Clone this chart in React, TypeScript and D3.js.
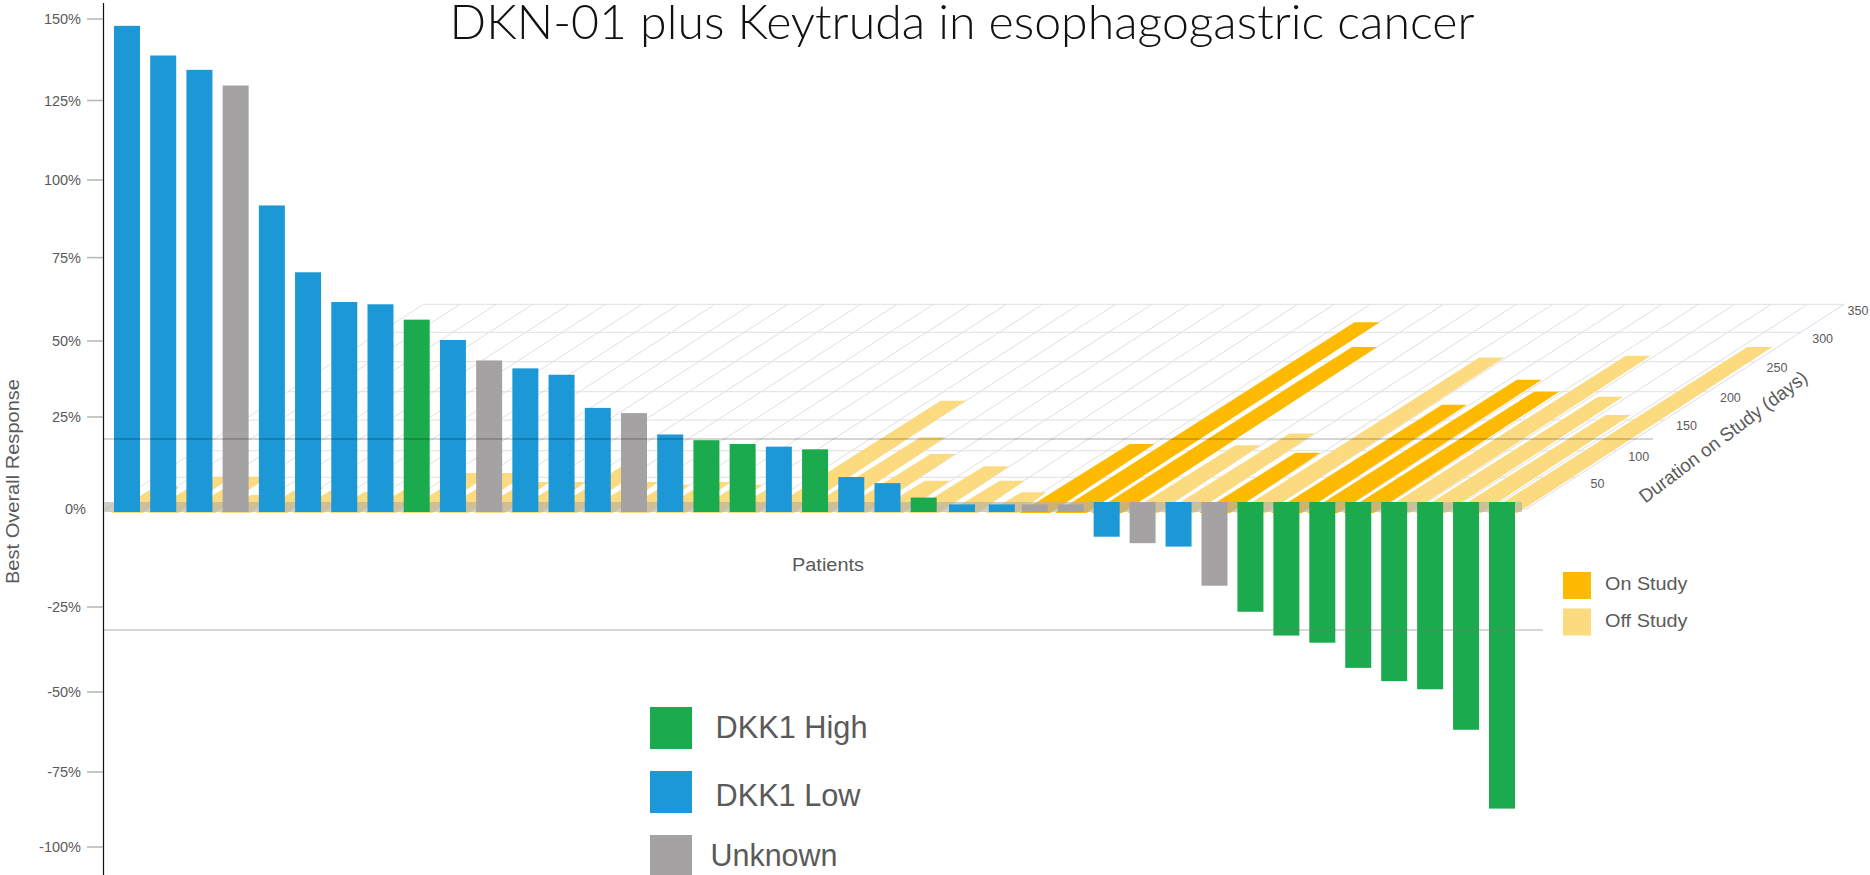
import React from "react";
import * as d3 from "d3";

const patientIndex = d3.range(39);
const responseValues = [147.9, 138.8, 134.4, 129.6, 91.8, 70.6, 61.7, 61, 56.4, 50.3, 43.6, 41, 38.9, 28, 26.3, 20.4, 18.9, 17.9, 17.2, 16.5, 9.2, 7.6, 3.8, 2, 2, 2, 2, -6.5, -8.2, -9.1, -19.4, -26.4, -33.4, -35.5, -42.9, -46.8, -49.2, -61.8, -87.2];
const markerGroups = ["L","L","L","U","L","L","L","L","H","L","U","L","L","L","U","L","H","H","L","H","L","L","H","L","L","U","U","L","U","L","U","H","H","H","H","H","H","H","H"];
const durationDays = [33, 51, 51, 19, 32, 28, 25, 28, 58, 58, 42, 42, 71, 42, 37, 42, 37, 28, 184, 122, 94, 44, 71, 44, 24, 111, 318, 275, 109, 128, 96, 257, 177, 220, 200, 260, 191, 159, 275];
const studyStatus = ["off","off","off","off","off","off","off","off","off","off","off","off","off","off","off","off","off","off","off","off","off","off","off","off","off","on","on","on","off","off","on","off","on","on","on","off","off","off","off"];
const responseTicks = [150, 125, 100, 75, 50, 25, 0, -25, -50, -75, -100];
const durationTicks = [50, 100, 150, 200, 250, 300, 350];
const gridColumns = d3.range(40);
const markerLegend = [
  { key: "H", label: "DKK1 High" },
  { key: "L", label: "DKK1 Low" },
  { key: "U", label: "Unknown" },
];
const statusLegend = [
  { key: "on", label: "On Study" },
  { key: "off", label: "Off Study" },
];

const markerColor: Record<string, string> = { H: "#1BAB4E", L: "#1B98D5", U: "#A5A2A3" };
const statusColor: Record<string, string> = { on: "#FEBA00", off: "#FCDB80" };

const y = d3.scaleLinear().domain(responseTicks).range([19, 100.5, 180, 257.6, 341, 417, 512, 607, 692, 772, 847]);
const x = d3.scaleLinear().domain([0, 22, 23, 24, 25, 38]).range([127, 923.7, 962, 1001.8, 1034.8, 1502]);
const gridX = d3.scaleLinear().domain([0, 39]).range([99.4, 1520]);
const depth = d3.scaleLinear().domain([0, 50, 100, 150, 200, 250, 300, 350]).range([506, 477.3, 450.7, 420, 391.7, 361.7, 332.3, 304.3]);

const SKEW = 1.553;
const BASE = 513;
const skew = (py: number) => (BASE - py) * SKEW;
const BAR_W = 26;
const RIBBON_W = 31;
const TIP_W = 25;
const line = d3.line();

const TXT = "#5a5a5a";
const SANS = "'Liberation Sans', Arial, sans-serif";

export default function App() {
  const topY = depth(350);
  return (
    <svg width={1870} height={875} style={{ position: "absolute", left: 0, top: 0, background: "#fff" }} fontFamily={SANS}>
      {/* floor grid */}
      <g stroke="#e0e0e0" strokeWidth={1} fill="none">
        {gridColumns.map((k) => (
          <path key={k} d={line([[gridX(k) + skew(510), 510], [gridX(k) + skew(topY), topY]]) as string} stroke={k === 39 ? "#d8dcec" : "#e0e0e0"} />
        ))}
        {durationTicks.map((d) => {
          const py = depth(d);
          return <path key={d} d={line([[gridX(0) + skew(py), py], [gridX(39) + skew(py), py]]) as string} />;
        })}
      </g>

      {/* duration ribbons */}
      {patientIndex.map((i) => {
        const c = x(i);
        const py = depth(durationDays[i]);
        const tip = c + skew(py);
        return (
          <path
            key={i}
            fill={statusColor[studyStatus[i]]}
            d={(line([
              [c - RIBBON_W / 2, BASE],
              [tip - TIP_W / 2, py],
              [tip + TIP_W / 2, py],
              [c + RIBBON_W / 2, BASE],
            ]) as string) + "Z"}
          />
        );
      })}

      {/* floor front edge */}
      <rect x={gridX(0) + 5} y={502} width={gridX(39) - gridX(0) - 3} height={10} fill="#b4b0a8" opacity={0.65} />

      {/* response bars */}
      {patientIndex.map((i) => {
        const v = responseValues[i];
        const top = v >= 0 ? y(v) : y(0) - 10;
        const bottom = v >= 0 ? y(0) : y(v);
        return <rect key={i} x={x(i) - BAR_W / 2} y={top} width={BAR_W} height={bottom - top} fill={markerColor[markerGroups[i]]} />;
      })}

      {/* overlaid horizontal rules */}
      <line x1={103} x2={1653} y1={439} y2={439} stroke="#000" strokeOpacity={0.33} strokeWidth={1} />
      <line x1={103} x2={1543} y1={630} y2={630} stroke="#777" strokeOpacity={0.4} strokeWidth={1.5} />

      {/* y axis */}
      <line x1={103.5} x2={103.5} y1={3} y2={875} stroke="#111" strokeWidth={1.2} />
      {responseTicks.map((t) => (
        <g key={t}>
          {t !== 0 && <line x1={87} x2={103} y1={y(t)} y2={y(t)} stroke="#b5b5b5" strokeWidth={1.5} />}
          <text x={t === 0 ? 86 : 81} y={t === 0 ? y(t) - 3 : y(t)} dy="0.35em" textAnchor="end" fontSize={14.5} fill={TXT}>
            {t}%
          </text>
        </g>
      ))}
      <text transform="translate(19,481.5) rotate(-90)" textAnchor="middle" fontSize={18} fill={TXT} textLength={205} lengthAdjust="spacingAndGlyphs">
        Best Overall Response
      </text>

      <text x={828} y={571} textAnchor="middle" fontSize={18} fill={TXT} textLength={72} lengthAdjust="spacingAndGlyphs">
        Patients
      </text>

      {/* depth axis */}
      {durationTicks.map((d) => {
        const py = depth(d);
        return (
          <text key={d} x={Math.min(gridX(39) + skew(py) + 22, 1858)} y={py + 6} dy="0.35em" textAnchor="middle" fontSize={12.5} fill={TXT}>
            {d}
          </text>
        );
      })}
      <text transform="translate(1727,442) rotate(-37)" textAnchor="middle" fontSize={19} fill={TXT} textLength={205} lengthAdjust="spacingAndGlyphs">
        Duration on Study (days)
      </text>

      {/* status legend */}
      {statusLegend.map((s, i) => (
        <g key={s.key} transform={`translate(1563,${572 + i * 36.5})`}>
          <rect width={28} height={27} fill={statusColor[s.key]} />
          <text x={42} y={11.5} dy="0.35em" fontSize={19} fill={TXT} textLength={82.5} lengthAdjust="spacingAndGlyphs">
            {s.label}
          </text>
        </g>
      ))}

      {/* marker legend */}
      {markerLegend.map((m, i) => (
        <g key={m.key} transform={`translate(650,${707 + i * 64})`}>
          <rect width={42} height={42} fill={markerColor[m.key]} />
          <text x={i === 2 ? 60.5 : 65.5} y={i === 2 ? 20 : i === 1 ? 24 : 20} dy="0.35em" fontSize={31} fill={TXT} textLength={i === 0 ? 152 : i === 1 ? 145 : 127} lengthAdjust="spacingAndGlyphs">
            {m.label}
          </text>
        </g>
      ))}

      {/* title */}
      <text x={962} y={39} textAnchor="middle" fontFamily="Lato, 'Open Sans', sans-serif" fontWeight={300} fontSize={48} fill="#111" textLength={1025} lengthAdjust="spacingAndGlyphs">
        DKN-01 plus Keytruda in esophagogastric cancer
      </text>
    </svg>
  );
}
